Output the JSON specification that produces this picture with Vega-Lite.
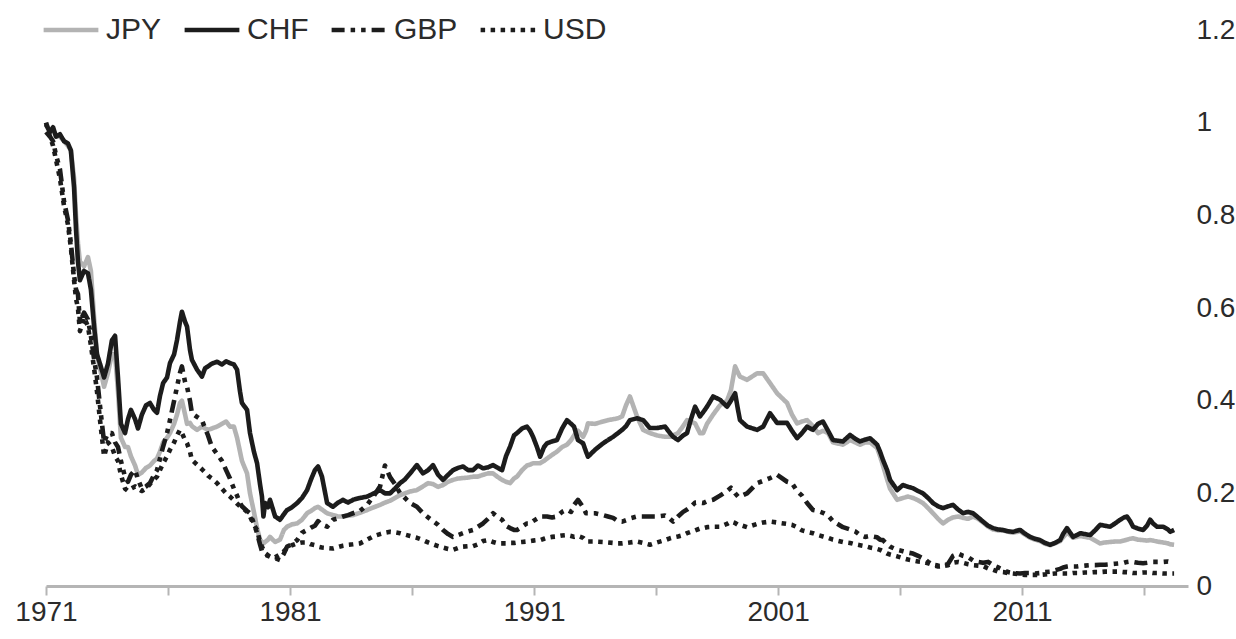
{
"$schema": "https://vega.github.io/schema/vega-lite/v6.json",
"width": 1142, "height": 556,
"autosize": {"type": "none"},
"padding": {"left": 46, "top": 30, "right": 48, "bottom": 53},
"background": "white",
"config": {"view": {"stroke": null}, "font": "Liberation Sans, Arial, sans-serif"},
"data": {"values": [
{"t":1971.00,"JPY":1.0,"CHF":0.996,"GBP":0.98,"USD":1.0},
{"t":1971.16,"JPY":0.98,"CHF":0.98,"GBP":0.97,"USD":0.97},
{"t":1971.29,"JPY":0.985,"CHF":0.99,"GBP":0.96,"USD":0.95},
{"t":1971.41,"JPY":0.97,"CHF":0.97,"GBP":0.93,"USD":0.92},
{"t":1971.57,"JPY":0.97,"CHF":0.975,"GBP":0.9,"USD":0.88},
{"t":1971.74,"JPY":0.96,"CHF":0.96,"GBP":0.83,"USD":0.82},
{"t":1971.90,"JPY":0.95,"CHF":0.955,"GBP":0.79,"USD":0.78},
{"t":1972.02,"JPY":0.94,"CHF":0.94,"GBP":0.74,"USD":0.73},
{"t":1972.15,"JPY":0.88,"CHF":0.86,"GBP":0.67,"USD":0.66},
{"t":1972.23,"JPY":0.80,"CHF":0.77,"GBP":0.64,"USD":0.62},
{"t":1972.31,"JPY":0.74,"CHF":0.70,"GBP":0.63,"USD":0.60},
{"t":1972.39,"JPY":0.70,"CHF":0.66,"GBP":0.57,"USD":0.55},
{"t":1972.56,"JPY":0.69,"CHF":0.68,"GBP":0.59,"USD":0.58},
{"t":1972.72,"JPY":0.71,"CHF":0.675,"GBP":0.575,"USD":0.56},
{"t":1972.84,"JPY":0.68,"CHF":0.64,"GBP":0.54,"USD":0.52},
{"t":1972.97,"JPY":0.58,"CHF":0.56,"GBP":0.49,"USD":0.47},
{"t":1973.09,"JPY":0.50,"CHF":0.50,"GBP":0.45,"USD":0.42},
{"t":1973.21,"JPY":0.47,"CHF":0.48,"GBP":0.39,"USD":0.36},
{"t":1973.38,"JPY":0.43,"CHF":0.45,"GBP":0.31,"USD":0.28},
{"t":1973.54,"JPY":0.46,"CHF":0.48,"GBP":0.33,"USD":0.31},
{"t":1973.70,"JPY":0.50,"CHF":0.53,"GBP":0.33,"USD":0.30},
{"t":1973.83,"JPY":0.50,"CHF":0.54,"GBP":0.31,"USD":0.28},
{"t":1973.95,"JPY":0.42,"CHF":0.45,"GBP":0.30,"USD":0.27},
{"t":1974.07,"JPY":0.32,"CHF":0.35,"GBP":0.27,"USD":0.24},
{"t":1974.24,"JPY":0.30,"CHF":0.33,"GBP":0.235,"USD":0.21},
{"t":1974.36,"JPY":0.30,"CHF":0.36,"GBP":0.225,"USD":0.205},
{"t":1974.48,"JPY":0.28,"CHF":0.38,"GBP":0.24,"USD":0.21},
{"t":1974.65,"JPY":0.26,"CHF":0.36,"GBP":0.25,"USD":0.215},
{"t":1974.77,"JPY":0.24,"CHF":0.34,"GBP":0.23,"USD":0.21},
{"t":1974.93,"JPY":0.245,"CHF":0.37,"GBP":0.21,"USD":0.205},
{"t":1975.10,"JPY":0.255,"CHF":0.39,"GBP":0.215,"USD":0.21},
{"t":1975.26,"JPY":0.26,"CHF":0.395,"GBP":0.222,"USD":0.22},
{"t":1975.43,"JPY":0.27,"CHF":0.38,"GBP":0.24,"USD":0.23},
{"t":1975.55,"JPY":0.275,"CHF":0.374,"GBP":0.25,"USD":0.236},
{"t":1975.67,"JPY":0.29,"CHF":0.41,"GBP":0.275,"USD":0.25},
{"t":1975.80,"JPY":0.31,"CHF":0.438,"GBP":0.301,"USD":0.265},
{"t":1975.96,"JPY":0.32,"CHF":0.45,"GBP":0.33,"USD":0.28},
{"t":1976.08,"JPY":0.33,"CHF":0.481,"GBP":0.358,"USD":0.294},
{"t":1976.25,"JPY":0.35,"CHF":0.5,"GBP":0.40,"USD":0.31},
{"t":1976.37,"JPY":0.37,"CHF":0.531,"GBP":0.43,"USD":0.325},
{"t":1976.49,"JPY":0.395,"CHF":0.57,"GBP":0.46,"USD":0.337},
{"t":1976.57,"JPY":0.40,"CHF":0.592,"GBP":0.474,"USD":0.33},
{"t":1976.70,"JPY":0.37,"CHF":0.57,"GBP":0.44,"USD":0.315},
{"t":1976.78,"JPY":0.35,"CHF":0.56,"GBP":0.43,"USD":0.308},
{"t":1976.90,"JPY":0.352,"CHF":0.51,"GBP":0.40,"USD":0.29},
{"t":1976.98,"JPY":0.345,"CHF":0.488,"GBP":0.373,"USD":0.272},
{"t":1977.19,"JPY":0.337,"CHF":0.467,"GBP":0.365,"USD":0.262},
{"t":1977.39,"JPY":0.344,"CHF":0.452,"GBP":0.358,"USD":0.252},
{"t":1977.52,"JPY":0.34,"CHF":0.47,"GBP":0.34,"USD":0.245},
{"t":1977.64,"JPY":0.337,"CHF":0.474,"GBP":0.325,"USD":0.238},
{"t":1977.80,"JPY":0.34,"CHF":0.48,"GBP":0.30,"USD":0.232},
{"t":1978.01,"JPY":0.344,"CHF":0.484,"GBP":0.285,"USD":0.222},
{"t":1978.21,"JPY":0.35,"CHF":0.478,"GBP":0.27,"USD":0.21},
{"t":1978.38,"JPY":0.355,"CHF":0.485,"GBP":0.25,"USD":0.2},
{"t":1978.54,"JPY":0.344,"CHF":0.481,"GBP":0.232,"USD":0.193},
{"t":1978.70,"JPY":0.344,"CHF":0.478,"GBP":0.21,"USD":0.185},
{"t":1978.83,"JPY":0.32,"CHF":0.467,"GBP":0.195,"USD":0.178},
{"t":1978.95,"JPY":0.29,"CHF":0.42,"GBP":0.179,"USD":0.172},
{"t":1979.03,"JPY":0.27,"CHF":0.395,"GBP":0.172,"USD":0.17},
{"t":1979.24,"JPY":0.243,"CHF":0.38,"GBP":0.162,"USD":0.16},
{"t":1979.36,"JPY":0.20,"CHF":0.33,"GBP":0.157,"USD":0.15},
{"t":1979.52,"JPY":0.16,"CHF":0.29,"GBP":0.135,"USD":0.132},
{"t":1979.65,"JPY":0.125,"CHF":0.265,"GBP":0.114,"USD":0.121},
{"t":1979.77,"JPY":0.10,"CHF":0.22,"GBP":0.09,"USD":0.095},
{"t":1979.85,"JPY":0.095,"CHF":0.193,"GBP":0.075,"USD":0.085},
{"t":1979.91,"JPY":0.092,"CHF":0.15,"GBP":0.071,"USD":0.078},
{"t":1979.98,"JPY":0.095,"CHF":0.179,"GBP":0.068,"USD":0.071},
{"t":1980.10,"JPY":0.10,"CHF":0.17,"GBP":0.065,"USD":0.066},
{"t":1980.18,"JPY":0.106,"CHF":0.186,"GBP":0.063,"USD":0.063},
{"t":1980.39,"JPY":0.095,"CHF":0.15,"GBP":0.06,"USD":0.062},
{"t":1980.59,"JPY":0.10,"CHF":0.143,"GBP":0.056,"USD":0.068},
{"t":1980.75,"JPY":0.121,"CHF":0.155,"GBP":0.07,"USD":0.075},
{"t":1980.88,"JPY":0.128,"CHF":0.164,"GBP":0.085,"USD":0.082},
{"t":1981.08,"JPY":0.133,"CHF":0.17,"GBP":0.09,"USD":0.088},
{"t":1981.29,"JPY":0.135,"CHF":0.179,"GBP":0.099,"USD":0.092},
{"t":1981.49,"JPY":0.143,"CHF":0.19,"GBP":0.115,"USD":0.094},
{"t":1981.70,"JPY":0.157,"CHF":0.207,"GBP":0.121,"USD":0.094},
{"t":1981.86,"JPY":0.162,"CHF":0.23,"GBP":0.126,"USD":0.09},
{"t":1982.02,"JPY":0.168,"CHF":0.25,"GBP":0.13,"USD":0.088},
{"t":1982.15,"JPY":0.171,"CHF":0.258,"GBP":0.14,"USD":0.085},
{"t":1982.31,"JPY":0.165,"CHF":0.236,"GBP":0.132,"USD":0.083},
{"t":1982.52,"JPY":0.157,"CHF":0.179,"GBP":0.128,"USD":0.082},
{"t":1982.76,"JPY":0.153,"CHF":0.171,"GBP":0.143,"USD":0.081},
{"t":1982.97,"JPY":0.15,"CHF":0.18,"GBP":0.146,"USD":0.084},
{"t":1983.17,"JPY":0.15,"CHF":0.186,"GBP":0.15,"USD":0.087},
{"t":1983.38,"JPY":0.152,"CHF":0.18,"GBP":0.153,"USD":0.089},
{"t":1983.58,"JPY":0.153,"CHF":0.186,"GBP":0.157,"USD":0.09},
{"t":1983.87,"JPY":0.158,"CHF":0.19,"GBP":0.162,"USD":0.092},
{"t":1984.16,"JPY":0.164,"CHF":0.193,"GBP":0.175,"USD":0.1},
{"t":1984.44,"JPY":0.17,"CHF":0.2,"GBP":0.195,"USD":0.108},
{"t":1984.69,"JPY":0.175,"CHF":0.207,"GBP":0.215,"USD":0.112},
{"t":1984.89,"JPY":0.18,"CHF":0.2,"GBP":0.26,"USD":0.115},
{"t":1985.10,"JPY":0.184,"CHF":0.2,"GBP":0.235,"USD":0.117},
{"t":1985.30,"JPY":0.19,"CHF":0.21,"GBP":0.22,"USD":0.116},
{"t":1985.51,"JPY":0.196,"CHF":0.222,"GBP":0.2,"USD":0.114},
{"t":1985.71,"JPY":0.2,"CHF":0.23,"GBP":0.19,"USD":0.111},
{"t":1985.92,"JPY":0.204,"CHF":0.243,"GBP":0.179,"USD":0.108},
{"t":1986.20,"JPY":0.207,"CHF":0.261,"GBP":0.171,"USD":0.104},
{"t":1986.45,"JPY":0.215,"CHF":0.243,"GBP":0.157,"USD":0.099},
{"t":1986.66,"JPY":0.222,"CHF":0.25,"GBP":0.148,"USD":0.094},
{"t":1986.86,"JPY":0.22,"CHF":0.261,"GBP":0.14,"USD":0.09},
{"t":1987.07,"JPY":0.214,"CHF":0.24,"GBP":0.132,"USD":0.086},
{"t":1987.27,"JPY":0.218,"CHF":0.229,"GBP":0.121,"USD":0.083},
{"t":1987.48,"JPY":0.225,"CHF":0.24,"GBP":0.112,"USD":0.08},
{"t":1987.68,"JPY":0.229,"CHF":0.25,"GBP":0.106,"USD":0.078},
{"t":1987.89,"JPY":0.232,"CHF":0.255,"GBP":0.11,"USD":0.082},
{"t":1988.09,"JPY":0.233,"CHF":0.258,"GBP":0.114,"USD":0.085},
{"t":1988.30,"JPY":0.234,"CHF":0.25,"GBP":0.118,"USD":0.086},
{"t":1988.50,"JPY":0.236,"CHF":0.25,"GBP":0.121,"USD":0.086},
{"t":1988.70,"JPY":0.236,"CHF":0.26,"GBP":0.128,"USD":0.09},
{"t":1988.91,"JPY":0.24,"CHF":0.254,"GBP":0.135,"USD":0.097},
{"t":1989.11,"JPY":0.243,"CHF":0.256,"GBP":0.145,"USD":0.099},
{"t":1989.32,"JPY":0.243,"CHF":0.261,"GBP":0.157,"USD":0.095},
{"t":1989.52,"JPY":0.235,"CHF":0.255,"GBP":0.148,"USD":0.092},
{"t":1989.69,"JPY":0.229,"CHF":0.25,"GBP":0.143,"USD":0.092},
{"t":1989.85,"JPY":0.225,"CHF":0.28,"GBP":0.13,"USD":0.092},
{"t":1990.02,"JPY":0.222,"CHF":0.301,"GBP":0.125,"USD":0.093},
{"t":1990.18,"JPY":0.232,"CHF":0.325,"GBP":0.121,"USD":0.093},
{"t":1990.30,"JPY":0.236,"CHF":0.33,"GBP":0.121,"USD":0.094},
{"t":1990.51,"JPY":0.25,"CHF":0.34,"GBP":0.128,"USD":0.095},
{"t":1990.71,"JPY":0.26,"CHF":0.344,"GBP":0.135,"USD":0.096},
{"t":1990.84,"JPY":0.262,"CHF":0.335,"GBP":0.135,"USD":0.097},
{"t":1990.96,"JPY":0.265,"CHF":0.322,"GBP":0.14,"USD":0.098},
{"t":1991.12,"JPY":0.265,"CHF":0.3,"GBP":0.145,"USD":0.099},
{"t":1991.25,"JPY":0.265,"CHF":0.279,"GBP":0.15,"USD":0.099},
{"t":1991.41,"JPY":0.27,"CHF":0.3,"GBP":0.15,"USD":0.102},
{"t":1991.53,"JPY":0.275,"CHF":0.308,"GBP":0.15,"USD":0.104},
{"t":1991.74,"JPY":0.283,"CHF":0.312,"GBP":0.148,"USD":0.106},
{"t":1991.94,"JPY":0.29,"CHF":0.315,"GBP":0.15,"USD":0.107},
{"t":1992.15,"JPY":0.3,"CHF":0.34,"GBP":0.16,"USD":0.109},
{"t":1992.35,"JPY":0.305,"CHF":0.358,"GBP":0.165,"USD":0.11},
{"t":1992.52,"JPY":0.315,"CHF":0.35,"GBP":0.16,"USD":0.108},
{"t":1992.64,"JPY":0.325,"CHF":0.344,"GBP":0.175,"USD":0.106},
{"t":1992.80,"JPY":0.335,"CHF":0.315,"GBP":0.186,"USD":0.108},
{"t":1993.01,"JPY":0.322,"CHF":0.308,"GBP":0.17,"USD":0.104},
{"t":1993.13,"JPY":0.335,"CHF":0.29,"GBP":0.157,"USD":0.097},
{"t":1993.21,"JPY":0.351,"CHF":0.279,"GBP":0.157,"USD":0.096},
{"t":1993.50,"JPY":0.35,"CHF":0.294,"GBP":0.157,"USD":0.096},
{"t":1993.83,"JPY":0.355,"CHF":0.308,"GBP":0.153,"USD":0.095},
{"t":1994.03,"JPY":0.358,"CHF":0.315,"GBP":0.15,"USD":0.094},
{"t":1994.24,"JPY":0.36,"CHF":0.322,"GBP":0.147,"USD":0.093},
{"t":1994.44,"JPY":0.362,"CHF":0.33,"GBP":0.14,"USD":0.092},
{"t":1994.61,"JPY":0.366,"CHF":0.337,"GBP":0.139,"USD":0.092},
{"t":1994.77,"JPY":0.39,"CHF":0.345,"GBP":0.142,"USD":0.093},
{"t":1994.93,"JPY":0.409,"CHF":0.358,"GBP":0.146,"USD":0.094},
{"t":1995.22,"JPY":0.366,"CHF":0.362,"GBP":0.15,"USD":0.096},
{"t":1995.47,"JPY":0.337,"CHF":0.358,"GBP":0.15,"USD":0.093},
{"t":1995.75,"JPY":0.33,"CHF":0.341,"GBP":0.15,"USD":0.089},
{"t":1996.04,"JPY":0.325,"CHF":0.341,"GBP":0.15,"USD":0.094},
{"t":1996.37,"JPY":0.322,"CHF":0.344,"GBP":0.152,"USD":0.099},
{"t":1996.57,"JPY":0.322,"CHF":0.33,"GBP":0.145,"USD":0.103},
{"t":1996.70,"JPY":0.325,"CHF":0.322,"GBP":0.139,"USD":0.105},
{"t":1996.90,"JPY":0.33,"CHF":0.315,"GBP":0.15,"USD":0.107},
{"t":1997.11,"JPY":0.345,"CHF":0.325,"GBP":0.16,"USD":0.11},
{"t":1997.27,"JPY":0.358,"CHF":0.33,"GBP":0.165,"USD":0.114},
{"t":1997.43,"JPY":0.355,"CHF":0.36,"GBP":0.171,"USD":0.117},
{"t":1997.60,"JPY":0.351,"CHF":0.387,"GBP":0.18,"USD":0.12},
{"t":1997.80,"JPY":0.33,"CHF":0.366,"GBP":0.18,"USD":0.124},
{"t":1997.93,"JPY":0.33,"CHF":0.375,"GBP":0.179,"USD":0.125},
{"t":1998.09,"JPY":0.35,"CHF":0.387,"GBP":0.183,"USD":0.127},
{"t":1998.34,"JPY":0.37,"CHF":0.409,"GBP":0.186,"USD":0.128},
{"t":1998.62,"JPY":0.39,"CHF":0.402,"GBP":0.195,"USD":0.128},
{"t":1998.91,"JPY":0.40,"CHF":0.387,"GBP":0.205,"USD":0.134},
{"t":1999.07,"JPY":0.423,"CHF":0.40,"GBP":0.212,"USD":0.139},
{"t":1999.24,"JPY":0.474,"CHF":0.416,"GBP":0.2,"USD":0.136},
{"t":1999.36,"JPY":0.46,"CHF":0.38,"GBP":0.193,"USD":0.132},
{"t":1999.44,"JPY":0.452,"CHF":0.358,"GBP":0.193,"USD":0.132},
{"t":1999.73,"JPY":0.445,"CHF":0.344,"GBP":0.2,"USD":0.127},
{"t":2000.14,"JPY":0.459,"CHF":0.337,"GBP":0.222,"USD":0.134},
{"t":2000.39,"JPY":0.459,"CHF":0.344,"GBP":0.227,"USD":0.137},
{"t":2000.67,"JPY":0.438,"CHF":0.373,"GBP":0.233,"USD":0.139},
{"t":2000.96,"JPY":0.416,"CHF":0.352,"GBP":0.24,"USD":0.137},
{"t":2001.37,"JPY":0.395,"CHF":0.352,"GBP":0.225,"USD":0.134},
{"t":2001.57,"JPY":0.37,"CHF":0.335,"GBP":0.222,"USD":0.132},
{"t":2001.78,"JPY":0.351,"CHF":0.319,"GBP":0.205,"USD":0.127},
{"t":2001.98,"JPY":0.355,"CHF":0.33,"GBP":0.195,"USD":0.12},
{"t":2002.19,"JPY":0.358,"CHF":0.344,"GBP":0.179,"USD":0.117},
{"t":2002.43,"JPY":0.345,"CHF":0.337,"GBP":0.164,"USD":0.114},
{"t":2002.64,"JPY":0.33,"CHF":0.35,"GBP":0.162,"USD":0.11},
{"t":2002.84,"JPY":0.335,"CHF":0.355,"GBP":0.158,"USD":0.107},
{"t":2003.05,"JPY":0.33,"CHF":0.335,"GBP":0.152,"USD":0.104},
{"t":2003.25,"JPY":0.31,"CHF":0.315,"GBP":0.14,"USD":0.1},
{"t":2003.66,"JPY":0.305,"CHF":0.312,"GBP":0.127,"USD":0.095},
{"t":2003.95,"JPY":0.315,"CHF":0.326,"GBP":0.122,"USD":0.093},
{"t":2004.16,"JPY":0.31,"CHF":0.318,"GBP":0.118,"USD":0.09},
{"t":2004.36,"JPY":0.305,"CHF":0.312,"GBP":0.11,"USD":0.088},
{"t":2004.57,"JPY":0.31,"CHF":0.316,"GBP":0.106,"USD":0.086},
{"t":2004.77,"JPY":0.31,"CHF":0.319,"GBP":0.108,"USD":0.083},
{"t":2005.06,"JPY":0.298,"CHF":0.305,"GBP":0.105,"USD":0.08},
{"t":2005.18,"JPY":0.28,"CHF":0.29,"GBP":0.1,"USD":0.078},
{"t":2005.30,"JPY":0.26,"CHF":0.272,"GBP":0.099,"USD":0.075},
{"t":2005.47,"JPY":0.23,"CHF":0.25,"GBP":0.09,"USD":0.07},
{"t":2005.59,"JPY":0.21,"CHF":0.229,"GBP":0.085,"USD":0.068},
{"t":2005.88,"JPY":0.186,"CHF":0.207,"GBP":0.078,"USD":0.064},
{"t":2006.12,"JPY":0.19,"CHF":0.218,"GBP":0.075,"USD":0.06},
{"t":2006.33,"JPY":0.193,"CHF":0.214,"GBP":0.072,"USD":0.057},
{"t":2006.53,"JPY":0.19,"CHF":0.211,"GBP":0.07,"USD":0.055},
{"t":2006.74,"JPY":0.185,"CHF":0.205,"GBP":0.065,"USD":0.053},
{"t":2006.94,"JPY":0.179,"CHF":0.2,"GBP":0.06,"USD":0.052},
{"t":2007.15,"JPY":0.168,"CHF":0.19,"GBP":0.052,"USD":0.049},
{"t":2007.35,"JPY":0.157,"CHF":0.179,"GBP":0.045,"USD":0.046},
{"t":2007.56,"JPY":0.145,"CHF":0.172,"GBP":0.042,"USD":0.044},
{"t":2007.76,"JPY":0.135,"CHF":0.168,"GBP":0.043,"USD":0.043},
{"t":2007.97,"JPY":0.143,"CHF":0.172,"GBP":0.048,"USD":0.045},
{"t":2008.17,"JPY":0.148,"CHF":0.175,"GBP":0.065,"USD":0.05},
{"t":2008.38,"JPY":0.15,"CHF":0.165,"GBP":0.07,"USD":0.052},
{"t":2008.58,"JPY":0.147,"CHF":0.157,"GBP":0.065,"USD":0.05},
{"t":2008.79,"JPY":0.145,"CHF":0.16,"GBP":0.062,"USD":0.047},
{"t":2008.99,"JPY":0.15,"CHF":0.157,"GBP":0.055,"USD":0.045},
{"t":2009.20,"JPY":0.145,"CHF":0.148,"GBP":0.052,"USD":0.044},
{"t":2009.40,"JPY":0.137,"CHF":0.139,"GBP":0.05,"USD":0.043},
{"t":2009.61,"JPY":0.128,"CHF":0.13,"GBP":0.052,"USD":0.038},
{"t":2009.81,"JPY":0.122,"CHF":0.125,"GBP":0.045,"USD":0.035},
{"t":2010.02,"JPY":0.12,"CHF":0.122,"GBP":0.04,"USD":0.031},
{"t":2010.22,"JPY":0.12,"CHF":0.121,"GBP":0.035,"USD":0.03},
{"t":2010.43,"JPY":0.117,"CHF":0.118,"GBP":0.03,"USD":0.028},
{"t":2010.63,"JPY":0.115,"CHF":0.117,"GBP":0.028,"USD":0.027},
{"t":2010.92,"JPY":0.118,"CHF":0.121,"GBP":0.027,"USD":0.025},
{"t":2011.12,"JPY":0.111,"CHF":0.113,"GBP":0.028,"USD":0.024},
{"t":2011.33,"JPY":0.104,"CHF":0.106,"GBP":0.028,"USD":0.024},
{"t":2011.53,"JPY":0.1,"CHF":0.102,"GBP":0.027,"USD":0.024},
{"t":2011.74,"JPY":0.097,"CHF":0.099,"GBP":0.028,"USD":0.024},
{"t":2011.94,"JPY":0.091,"CHF":0.093,"GBP":0.03,"USD":0.025},
{"t":2012.15,"JPY":0.088,"CHF":0.089,"GBP":0.031,"USD":0.026},
{"t":2012.35,"JPY":0.092,"CHF":0.093,"GBP":0.034,"USD":0.027},
{"t":2012.56,"JPY":0.097,"CHF":0.099,"GBP":0.037,"USD":0.027},
{"t":2012.68,"JPY":0.105,"CHF":0.112,"GBP":0.04,"USD":0.027},
{"t":2012.84,"JPY":0.115,"CHF":0.125,"GBP":0.042,"USD":0.027},
{"t":2012.97,"JPY":0.11,"CHF":0.115,"GBP":0.043,"USD":0.027},
{"t":2013.09,"JPY":0.104,"CHF":0.106,"GBP":0.042,"USD":0.028},
{"t":2013.25,"JPY":0.106,"CHF":0.11,"GBP":0.042,"USD":0.028},
{"t":2013.38,"JPY":0.108,"CHF":0.114,"GBP":0.043,"USD":0.028},
{"t":2013.58,"JPY":0.106,"CHF":0.112,"GBP":0.044,"USD":0.029},
{"t":2013.79,"JPY":0.104,"CHF":0.11,"GBP":0.045,"USD":0.029},
{"t":2013.99,"JPY":0.098,"CHF":0.12,"GBP":0.045,"USD":0.03},
{"t":2014.20,"JPY":0.092,"CHF":0.132,"GBP":0.046,"USD":0.03},
{"t":2014.40,"JPY":0.094,"CHF":0.13,"GBP":0.046,"USD":0.031},
{"t":2014.61,"JPY":0.095,"CHF":0.128,"GBP":0.047,"USD":0.031},
{"t":2014.81,"JPY":0.096,"CHF":0.135,"GBP":0.048,"USD":0.031},
{"t":2015.02,"JPY":0.096,"CHF":0.143,"GBP":0.049,"USD":0.031},
{"t":2015.18,"JPY":0.098,"CHF":0.148,"GBP":0.05,"USD":0.03},
{"t":2015.30,"JPY":0.1,"CHF":0.15,"GBP":0.052,"USD":0.03},
{"t":2015.43,"JPY":0.102,"CHF":0.14,"GBP":0.053,"USD":0.029},
{"t":2015.55,"JPY":0.103,"CHF":0.128,"GBP":0.052,"USD":0.028},
{"t":2015.75,"JPY":0.1,"CHF":0.124,"GBP":0.05,"USD":0.028},
{"t":2015.96,"JPY":0.099,"CHF":0.121,"GBP":0.049,"USD":0.029},
{"t":2016.12,"JPY":0.098,"CHF":0.13,"GBP":0.05,"USD":0.029},
{"t":2016.25,"JPY":0.099,"CHF":0.143,"GBP":0.051,"USD":0.029},
{"t":2016.37,"JPY":0.098,"CHF":0.135,"GBP":0.052,"USD":0.028},
{"t":2016.53,"JPY":0.096,"CHF":0.128,"GBP":0.052,"USD":0.028},
{"t":2016.78,"JPY":0.094,"CHF":0.128,"GBP":0.052,"USD":0.027},
{"t":2016.98,"JPY":0.092,"CHF":0.122,"GBP":0.053,"USD":0.027},
{"t":2017.07,"JPY":0.09,"CHF":0.117,"GBP":0.052,"USD":0.027},
{"t":2017.23,"JPY":0.089,"CHF":0.121,"GBP":0.052,"USD":0.027}
]},
"transform": [{"fold": ["JPY", "CHF", "GBP", "USD"], "as": ["cur", "v"]}],
"mark": {"type": "line", "strokeWidth": 4.6, "strokeCap": "butt", "strokeJoin": "round"},
"encoding": {
  "x": {"field": "t", "type": "quantitative",
        "scale": {"domain": [1971, 2017.8], "nice": false, "zero": false},
        "axis": {"title": null, "grid": false, "values": [1971,1976,1981,1986,1991,1996,2001,2006,2011,2016],
                 "labelExpr": "(datum.value - 1971) % 10 == 0 ? format(datum.value, 'd') : ''",
                 "domainColor": "#b5b5b5", "domainWidth": 3, "tickColor": "#b5b5b5", "tickWidth": 2, "tickSize": 9,
                 "labelFontSize": 28, "labelColor": "#2b2b2b", "labelPadding": 3, "labelFlush": false}},
  "y": {"field": "v", "type": "quantitative",
        "scale": {"domain": [0, 1.2], "nice": false},
        "axis": {"orient": "right", "title": null, "grid": false, "domain": false, "ticks": false,
                 "values": [0, 0.2, 0.4, 0.6, 0.8, 1, 1.2], "format": "~g",
                 "labelFontSize": 28, "labelColor": "#2b2b2b", "labelPadding": 8}},
  "color": {"field": "cur", "type": "nominal",
            "scale": {"domain": ["JPY", "CHF", "GBP", "USD"], "range": ["#b3b3b3", "#1c1c1c", "#1c1c1c", "#1c1c1c"]},
            "legend": {"orient": "none", "legendX": -5, "legendY": -30, "direction": "horizontal", "title": null,
                       "symbolType": "stroke", "symbolSize": 3000, "symbolStrokeWidth": 4.6,
                       "labelFontSize": 30, "labelColor": "#2b2b2b", "labelOffset": 5, "columnPadding": 13}},
  "strokeDash": {"field": "cur", "type": "nominal",
            "scale": {"domain": ["JPY", "CHF", "GBP", "USD"], "range": [[1, 0], [1, 0], [13, 6, 4.5, 6, 4.5, 6], [4.5, 5.5]]},
            "legend": {"orient": "none", "legendX": -5, "legendY": -30, "direction": "horizontal", "title": null,
                       "symbolType": "stroke", "symbolSize": 3000, "symbolStrokeWidth": 4.6,
                       "labelFontSize": 30, "labelColor": "#2b2b2b", "labelOffset": 5, "columnPadding": 13}}
}
}
